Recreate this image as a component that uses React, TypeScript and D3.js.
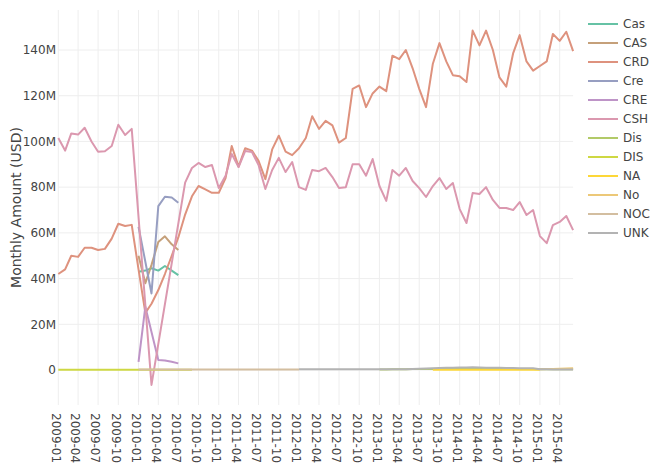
import React from "react";
import * as d3 from "d3";

// ---- data (values in millions USD), monthly, each series starts at its start month ----
const seriesNames = ["Cas", "CAS", "CRD", "Cre", "CRE", "CSH", "Dis", "DIS", "NA", "No", "NOC", "UNK"];
const seriesColors = ["#66c2a5", "#c5a07a", "#de927e", "#979ec1", "#be94c7", "#db98af", "#b2ca68", "#ced843", "#fdd738", "#ecc878", "#d3bea0", "#b3b3b3"];

const casStart = "2010-01";
const casValues = [43, 43.5, 44.5, 43.5, 45.5, 43.5, 41.5];

const CASStart = "2010-01";
const CASValues = [50, 38, 46, 56, 58.5, 55, 52.5];

const crdStart = "2009-01";
const crdValues = [
  42, 44, 50, 49.5, 53.5, 53.5, 52.5, 53, 57.5, 64, 63, 63.5,
  44, 25, 29, 35, 42, 50, 58, 68, 76, 80.5, 79, 77.5,
  77.5, 84, 98, 89, 97, 96, 91.5, 83.5, 96.5, 102.5, 95.5, 94,
  97, 101.5, 111, 105.5, 109, 107, 99.5, 101.5, 123, 124.5, 115, 121,
  124, 122, 137.5, 136, 140, 132, 123, 115, 134, 143, 135, 129,
  128.5, 126, 148.5, 142, 148.5, 140, 128, 124, 138.5, 146.5, 135, 131,
  133, 135, 147, 144, 148, 139.5,
];

const creStartLower = "2010-01";
const creValuesUpper = [62.7, null, 33.5, 71.7, 75.8, 75.5, 73.2]; // "Cre"

const CREStart = "2010-01";
const CREValues = [3.6, 27.7, null, 4.4, 4.2, 3.6, 2.9];

const cshStart = "2009-01";
const cshValues = [
  101.5, 96, 103.5, 103, 106, 100, 95.5, 95.7, 98, 107.3, 102.8, 105.5,
  null, null, -6.5, null, null, null, null, 82, 88.4, 90.6, 88.8, 89.7,
  79.6, 85, 94.5, 88.8, 95.8, 95.4, 89.7, 79.2, 87.5, 92.8, 86.6, 91,
  80, 78.8, 87.5, 87, 88.4, 84.4, 79.6, 80, 90, 90, 85, 92.3,
  80.5, 74, 87.5, 85, 88.4, 82.7, 79.6, 75.7, 80.5, 84, 79.2, 81.8,
  70.4, 64.3, 77.4, 77, 80, 74.4, 70.9, 70.9, 70, 73.5, 67.8, 70,
  58.6, 55.5, 63.4, 64.8, 67.4, 61.2,
];

const disStart = "2013-01";
const disValues = [0.2, 0.2, 0.3, 0.3, 0.3, 0.4, 0.4, 0.5, 0.5, 0.6, 0.6, 0.6, 0.6, 0.6, 0.6, 0.6, 0.5, 0.5, 0.5, 0.5, 0.4, 0.4, 0.4, 0.4, 0.3, 0.3, 0.3, 0.3, 0.3, 0.3];

const DISStart = "2009-01";
const DISValues = [0.1, 0.1, 0.1, 0.1, 0.1, 0.1, 0.1, 0.1, 0.1, 0.1, 0.1, 0.1, 0.1, 0.1, 0.1, 0.1, 0.1, 0.1, 0.1, 0.1, 0.1];

const naStart = "2013-09";
const naValues = [0.1, 0.1, 0.1, 0.1, 0.1, 0.1, 0.1, 0.1, 0.1, 0.1, 0.1, 0.1, 0.1, 0.1, 0.1, 0.1, 0.1];

const noStart = "2015-01";
const noValues = [0.3, 0.4, 0.5, 0.6, 0.7, 0.8];

const nocStart = "2010-01";
const nocValues = [0.2, 0.2, 0.2, 0.2, 0.2, 0.2, 0.2, 0.2, 0.2, 0.2, 0.2, 0.2, 0.2, 0.2, 0.2, 0.2, 0.2, 0.2, 0.2, 0.2, 0.2, 0.2, 0.2, 0.2, 0.2];

const unkStart = "2012-01";
const unkValues = [
  0.3, 0.3, 0.3, 0.3, 0.3, 0.3, 0.3, 0.3, 0.3, 0.3, 0.3, 0.3,
  0.3, 0.3, 0.3, 0.3, 0.3, 0.5, 0.6, 0.7, 0.8, 0.9, 1.0, 1.0,
  1.1, 1.1, 1.2, 1.1, 1.0, 1.0, 1.0, 0.9, 0.9, 0.8, 0.8, 0.8,
  0.3, 0.3, 0.2, 0.2, 0.2, 0.2,
];

const yTickValues = [0, 20, 40, 60, 80, 100, 120, 140];
const yTitle = "Monthly Amount (USD)";

const seriesStarts = [casStart, CASStart, crdStart, creStartLower, CREStart, cshStart, disStart, DISStart, naStart, noStart, nocStart, unkStart];
const seriesValues = [casValues, CASValues, crdValues, creValuesUpper, CREValues, cshValues, disValues, DISValues, naValues, noValues, nocValues, unkValues];

// ---- layout ----
const W = 659;
const H = 475;
const plotLeft = 58.3;
const plotRight = 573.1;
const plotTop = 10;
const plotBottom = 405;
const FONT = "'DejaVu Sans', Verdana, sans-serif";

function toPoints(start: string, values: (number | null)[]) {
  const [y, m] = start.split("-").map(Number);
  const pts: { date: Date; v: number }[] = [];
  values.forEach((v, i) => {
    if (v !== null && v !== undefined) pts.push({ date: new Date(y, m - 1 + i, 1), v });
  });
  return pts;
}

export default function App() {
  const x = d3.scaleTime().domain([new Date(2009, 0, 1), new Date(2015, 5, 1)]).range([plotLeft, plotRight]);
  const y = d3.scaleLinear().domain([-15.3, 157.5]).range([plotBottom, plotTop]);
  const xTicks = x.ticks(d3.timeMonth.every(3) as any);
  const fmt = d3.timeFormat("%Y-%m");
  const line = d3
    .line<{ date: Date; v: number }>()
    .x((d) => x(d.date))
    .y((d) => y(d.v));

  const series = seriesNames.map((name, i) => ({
    name,
    color: seriesColors[i],
    pts: toPoints(seriesStarts[i], seriesValues[i]),
  }));

  return (
    <svg width={W} height={H} style={{ position: "absolute", left: 0, top: 0, background: "#fff" }} fontFamily={FONT}>
      <rect x={0} y={0} width={W} height={H} fill="#fff" />
      {/* grid */}
      {xTicks.map((t, i) => (
        <line key={"gx" + i} x1={x(t)} x2={x(t)} y1={plotTop} y2={plotBottom} stroke="#eee" strokeWidth={1} />
      ))}
      {yTickValues.map((v, i) => (
        <line key={"gy" + i} x1={plotLeft} x2={plotRight} y1={y(v)} y2={y(v)} stroke="#eee" strokeWidth={1} />
      ))}
      {/* lines */}
      {series.map((s) => (
        <path key={s.name} d={line(s.pts) || ""} fill="none" stroke={s.color} strokeWidth={2} strokeLinejoin="round" />
      ))}
      {/* y tick labels */}
      {yTickValues.map((v, i) => (
        <text key={"yt" + i} x={56} y={y(v)} dy="0.35em" textAnchor="end" fontSize={12} fill="#444">
          {v === 0 ? "0" : `${v}M`}
        </text>
      ))}
      {/* x tick labels */}
      {xTicks.map((t, i) => (
        <text
          key={"xt" + i}
          transform={`translate(${x(t) - 2.5},413) rotate(90)`}
          dy="0.35em"
          textAnchor="start"
          fontSize={12}
          fill="#444"
        >
          {fmt(t)}
        </text>
      ))}
      {/* y title */}
      <text transform={`translate(16,${(plotTop + plotBottom) / 2}) rotate(-90)`} dy="0.35em" textAnchor="middle" fontSize={14} fill="#444">
        {yTitle}
      </text>
      {/* legend */}
      {series.map((s, i) => (
        <g key={"lg" + s.name} transform={`translate(0,${24 + i * 19})`}>
          <line x1={588} x2={618} y1={0} y2={0} stroke={s.color} strokeWidth={2} />
          <text x={623} y={0} dy="0.35em" fontSize={12} fill="#444">
            {s.name}
          </text>
        </g>
      ))}
    </svg>
  );
}
